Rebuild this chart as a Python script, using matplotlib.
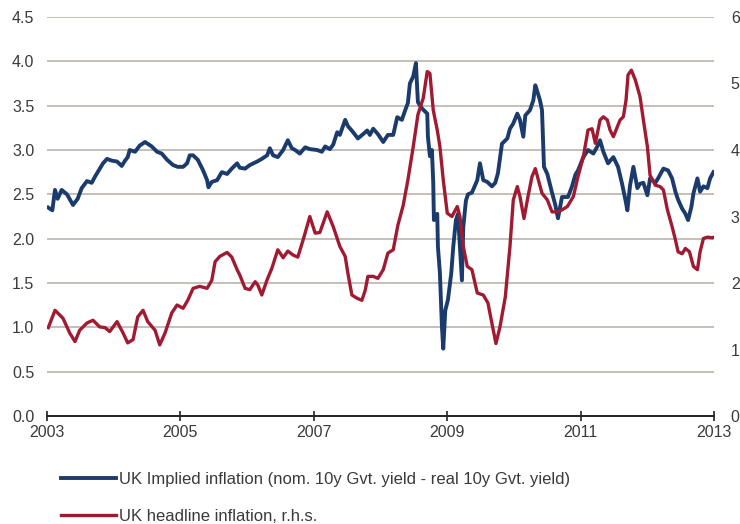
import numpy as np
import matplotlib
matplotlib.use("Agg")
import matplotlib.pyplot as plt

plt.rcParams['font.family'] = ['Liberation Sans', 'DejaVu Sans']

# UK implied inflation (nom. 10y - real 10y), lhs
implied_t = [2003.02, 2003.08, 2003.12, 2003.16, 2003.22, 2003.30, 2003.39, 2003.46, 2003.52, 2003.60,
             2003.67, 2003.72, 2003.76, 2003.84, 2003.90, 2003.97, 2004.05, 2004.12, 2004.17, 2004.21,
             2004.24, 2004.32, 2004.39, 2004.47, 2004.57, 2004.65, 2004.72, 2004.80, 2004.89, 2004.96,
             2005.04, 2005.10, 2005.14, 2005.19, 2005.26, 2005.34, 2005.40, 2005.42, 2005.47, 2005.55,
             2005.62, 2005.70, 2005.77, 2005.85, 2005.89, 2005.97, 2006.04, 2006.15, 2006.22, 2006.30,
             2006.34, 2006.39, 2006.46, 2006.54, 2006.61, 2006.67, 2006.72, 2006.79, 2006.87, 2006.94,
             2007.05, 2007.12, 2007.17, 2007.24, 2007.29, 2007.35, 2007.39, 2007.47, 2007.51, 2007.59,
             2007.66, 2007.74, 2007.80, 2007.84, 2007.89, 2007.96, 2008.04, 2008.11, 2008.19, 2008.25,
             2008.32, 2008.37, 2008.41, 2008.44, 2008.49, 2008.53, 2008.56, 2008.62, 2008.70, 2008.71,
             2008.74, 2008.77, 2008.79, 2008.80, 2008.85, 2008.86, 2008.89, 2008.92, 2008.94, 2008.97,
             2009.01, 2009.06, 2009.09, 2009.13, 2009.16, 2009.19, 2009.22, 2009.24, 2009.28, 2009.31,
             2009.37, 2009.45, 2009.49, 2009.54, 2009.60, 2009.67, 2009.72, 2009.76, 2009.82, 2009.90,
             2009.94, 2009.99, 2010.05, 2010.09, 2010.14, 2010.17, 2010.24, 2010.29, 2010.32, 2010.35,
             2010.39, 2010.42, 2010.44, 2010.45, 2010.50, 2010.57, 2010.62, 2010.66, 2010.72, 2010.81,
             2010.87, 2010.92, 2010.96, 2011.04, 2011.11, 2011.19, 2011.25, 2011.29, 2011.34, 2011.41,
             2011.49, 2011.56, 2011.62, 2011.67, 2011.70, 2011.74, 2011.79, 2011.85, 2011.89, 2011.94,
             2012.00, 2012.04, 2012.12, 2012.16, 2012.24, 2012.31, 2012.37, 2012.42, 2012.46, 2012.52,
             2012.57, 2012.61, 2012.66, 2012.69, 2012.75, 2012.79, 2012.84, 2012.90, 2012.94, 2012.99]
implied_v = [2.35, 2.32, 2.55, 2.45, 2.55, 2.50, 2.38, 2.45, 2.57, 2.65,
             2.63, 2.70, 2.75, 2.85, 2.90, 2.88, 2.87, 2.82, 2.88, 2.92,
             3.00, 2.98, 3.05, 3.09, 3.04, 2.98, 2.96, 2.89, 2.83, 2.81,
             2.81, 2.85, 2.94, 2.94, 2.89, 2.77, 2.66, 2.58, 2.64, 2.66,
             2.75, 2.73, 2.79, 2.85, 2.80, 2.79, 2.83, 2.87, 2.90, 2.94,
             3.02, 2.94, 2.92, 3.00, 3.11, 3.02, 3.00, 2.96, 3.03, 3.01,
             3.00, 2.98, 3.04, 3.01, 3.06, 3.20, 3.17, 3.34, 3.27, 3.20,
             3.13, 3.18, 3.22, 3.17, 3.24, 3.18, 3.09, 3.17, 3.17, 3.37,
             3.34, 3.45, 3.53, 3.75, 3.83, 3.98, 3.54, 3.47, 3.41, 3.15,
             2.93, 3.00, 2.63, 2.21, 2.28, 1.91, 1.61, 1.01, 0.76, 1.19,
             1.31, 1.61, 1.91, 2.21, 2.28, 1.91, 1.53, 2.13, 2.43, 2.50,
             2.52, 2.66, 2.85, 2.66, 2.64, 2.59, 2.63, 2.74, 3.07, 3.13,
             3.24, 3.30, 3.41, 3.34, 3.15, 3.39, 3.45, 3.56, 3.73, 3.66,
             3.56, 3.45, 3.00, 2.81, 2.73, 2.52, 2.38, 2.23, 2.47, 2.47,
             2.59, 2.72, 2.77, 2.92, 3.00, 2.96, 3.04, 3.11, 2.98, 2.85,
             2.92, 2.81, 2.62, 2.44, 2.32, 2.60, 2.81, 2.57, 2.62, 2.63,
             2.49, 2.68, 2.63, 2.68, 2.79, 2.77, 2.68, 2.53, 2.44, 2.34,
             2.28, 2.21, 2.36, 2.51, 2.68, 2.53, 2.59, 2.57, 2.68, 2.75]

# UK headline CPI inflation, rhs
headline_t = [2003.02, 2003.12, 2003.24, 2003.34, 2003.42, 2003.49, 2003.60, 2003.69, 2003.79, 2003.87,
              2003.94, 2004.05, 2004.14, 2004.21, 2004.29, 2004.36, 2004.44, 2004.51, 2004.62, 2004.69,
              2004.77, 2004.87, 2004.95, 2005.04, 2005.11, 2005.19, 2005.29, 2005.40, 2005.47, 2005.52,
              2005.59, 2005.70, 2005.77, 2005.85, 2005.89, 2005.97, 2006.04, 2006.12, 2006.16, 2006.22,
              2006.30, 2006.37, 2006.46, 2006.54, 2006.61, 2006.69, 2006.76, 2006.84, 2006.94, 2007.02,
              2007.09, 2007.20, 2007.29, 2007.39, 2007.47, 2007.51, 2007.57, 2007.65, 2007.72, 2007.77,
              2007.81, 2007.89, 2007.96, 2008.04, 2008.11, 2008.19, 2008.26, 2008.34, 2008.41, 2008.49,
              2008.56, 2008.64, 2008.70, 2008.74, 2008.79, 2008.85, 2008.89, 2008.94, 2009.00, 2009.07,
              2009.15, 2009.19, 2009.24, 2009.30, 2009.37, 2009.45, 2009.54, 2009.61, 2009.67, 2009.73,
              2009.79, 2009.87, 2009.94, 2009.99, 2010.05, 2010.09, 2010.15, 2010.21, 2010.27, 2010.32,
              2010.36, 2010.42, 2010.50, 2010.57, 2010.65, 2010.72, 2010.80, 2010.89, 2010.96, 2011.04,
              2011.11, 2011.17, 2011.22, 2011.29, 2011.34, 2011.40, 2011.44, 2011.49, 2011.55, 2011.59,
              2011.64, 2011.68, 2011.71, 2011.76, 2011.82, 2011.89, 2011.94, 2012.00, 2012.04, 2012.12,
              2012.19, 2012.24, 2012.30, 2012.37, 2012.42, 2012.46, 2012.52, 2012.57, 2012.63, 2012.69,
              2012.75, 2012.79, 2012.84, 2012.90, 2012.97, 2013.00]
headline_v = [1.33, 1.59, 1.47, 1.25, 1.12, 1.29, 1.40, 1.44, 1.34, 1.33,
              1.27, 1.42, 1.25, 1.10, 1.15, 1.49, 1.59, 1.42, 1.29, 1.07,
              1.25, 1.55, 1.67, 1.62, 1.74, 1.92, 1.95, 1.92, 2.04, 2.32,
              2.40, 2.46, 2.39, 2.20, 2.12, 1.92, 1.90, 2.02, 1.97, 1.82,
              2.05, 2.22, 2.50, 2.38, 2.48, 2.42, 2.39, 2.65, 3.00, 2.75,
              2.76, 3.07, 2.85, 2.55, 2.40, 2.15, 1.82, 1.77, 1.74, 1.89,
              2.10, 2.10, 2.07, 2.20, 2.45, 2.50, 2.87, 3.17, 3.55, 4.05,
              4.53, 4.78, 5.18, 5.15, 4.60, 4.30, 4.05, 3.55, 3.05, 3.00,
              3.15, 3.00, 2.55, 2.25, 2.20, 1.85, 1.82, 1.70, 1.39, 1.09,
              1.34, 1.79, 2.55, 3.25, 3.45, 3.30, 2.97, 3.30, 3.60, 3.72,
              3.57, 3.35, 3.25, 3.07, 3.07, 3.10, 3.15, 3.30, 3.60, 3.90,
              4.30, 4.32, 4.10, 4.45, 4.50, 4.45, 4.30, 4.20, 4.35, 4.45,
              4.50, 4.75, 5.13, 5.20, 5.05, 4.80, 4.45, 4.05, 3.62, 3.47,
              3.45, 3.40, 3.10, 2.85, 2.65, 2.47, 2.44, 2.52, 2.47, 2.25,
              2.20, 2.47, 2.67, 2.69, 2.68, 2.69]

year_ticks = [2003, 2005, 2007, 2009, 2011, 2013]
left_ticks = np.arange(0, 4.51, 0.5)
right_ticks = [0, 1, 2, 3, 4, 5, 6]

blue = '#1c3b6d'
red = '#a01b32'
grid_col = '#bcb4ac'
text_col = '#3a3a3a'

fig = plt.figure(figsize=(7.4, 5.24), dpi=100)
ax = fig.add_axes([0.0635, 0.206, 0.9015, 0.7616])
ax2 = ax.twinx()

ax.set_xlim(2003, 2013)
ax.set_ylim(0, 4.5)
ax2.set_ylim(0, 6)

for y in left_ticks[1:]:
    ax.axhline(y, color=grid_col, lw=1.2, zorder=0)

ln1, = ax.plot(implied_t, implied_v, color=blue, lw=2.8, solid_joinstyle='round',
               label='UK Implied inflation (nom. 10y Gvt. yield - real 10y Gvt. yield)')
ln2, = ax2.plot(headline_t, headline_v, color=red, lw=2.4, solid_joinstyle='round',
                label='UK headline inflation, r.h.s.')

for a in (ax, ax2):
    for s in a.spines.values():
        s.set_visible(False)
ax.spines['bottom'].set_visible(True)
ax.spines['bottom'].set_color('#222222')
ax.spines['bottom'].set_linewidth(1.4)

ax.set_xticks(year_ticks)
ax.set_xticklabels([str(y) for y in year_ticks])
ax.tick_params(axis='x', direction='inout', length=7, width=1.2, color='#222222',
               labelsize=11.5, labelcolor=text_col, pad=3)
ax.set_yticks(left_ticks)
ax.set_yticklabels(['%.1f' % v for v in left_ticks])
ax.tick_params(axis='y', length=0, labelsize=11.5, labelcolor=text_col, pad=9)
ax2.set_yticks(right_ticks)
ax2.set_yticklabels([str(v) for v in right_ticks])
ax2.tick_params(axis='y', length=0, labelsize=11.5, labelcolor=text_col, pad=12)

fig.legend(handles=[ln1, ln2], loc='upper left', bbox_to_anchor=(0.073, 0.112),
           frameon=False, fontsize=12, handlelength=3.3, handletextpad=0.2,
           labelspacing=1.3, labelcolor=text_col, borderaxespad=0)

fig.savefig('out.png', dpi=100)
